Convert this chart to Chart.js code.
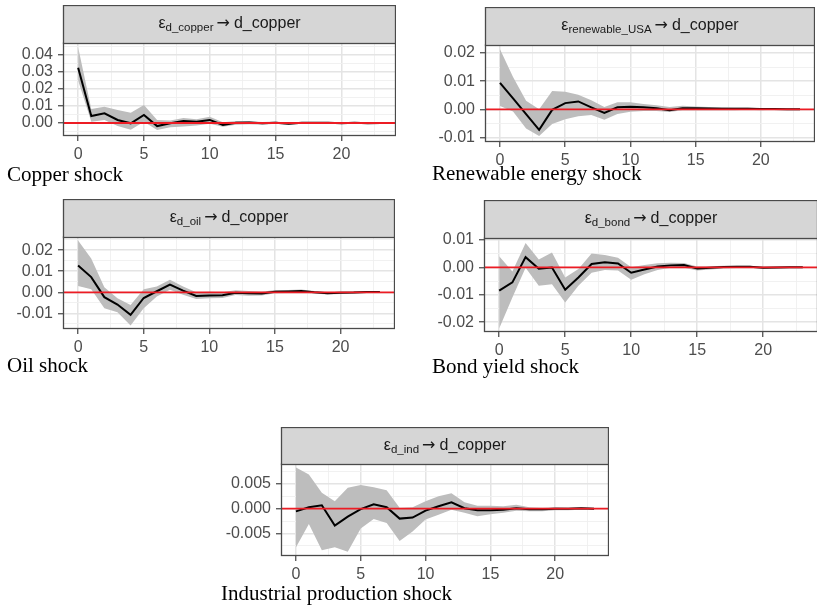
<!DOCTYPE html>
<html><head><meta charset="utf-8">
<script src="https://cdn.jsdelivr.net/npm/chart.js@4.4.1/dist/chart.umd.min.js"></script>
<style>
html,body{margin:0;padding:0;background:#fff;width:817px;height:608px;overflow:hidden;position:relative}
.panel{position:absolute}
.panel canvas{display:block}
.cap{position:absolute;font-family:"Liberation Serif","Times New Roman",serif;font-size:21px;line-height:21px;color:#000;white-space:nowrap}
</style></head><body>
<script>
// ---------- data ----------
const horizons = [0,1,2,3,4,5,6,7,8,9,10,11,12,13,14,15,16,17,18,19,20,21,22,23];
const xTicks = [0,5,10,15,20];
const xTickLabels = ['0','5','10','15','20'];
const responseName = 'd_copper';
const shockNames = ['d_copper','renewable_USA','d_oil','d_bond','d_ind'];
const captions = ['Copper shock','Renewable energy shock','Oil shock','Bond yield shock','Industrial production shock'];

const copperIrf   = [0.0325,0.0041,0.0057,0.0018,-0.0002,0.0047,-0.0018,-0.0002,0.0012,0.0007,0.0018,-0.0012,0.0001,0.0003,-0.0002,0.0002,-0.0005,0.0001,0.0002,0.0001,-0.0001,0.0001,-0.0001,0.0];
const copperLower = [0.025,0.0008,0.0018,-0.0018,-0.004,0.0008,-0.0041,-0.0025,-0.002,-0.0015,-0.0004,-0.0022,-0.001,-0.0008,-0.001,-0.0005,-0.001,-0.0004,-0.0003,-0.0003,-0.0004,-0.0003,-0.0004,-0.0002];
const copperUpper = [0.0446,0.0082,0.0096,0.0076,0.006,0.0106,0.0018,0.0015,0.003,0.0022,0.0037,0.0005,0.0012,0.0011,0.0006,0.0009,0.0002,0.0006,0.0006,0.0005,0.0003,0.0004,0.0003,0.0002];
const copperYTicks = [0,0.01,0.02,0.03,0.04];
const copperYLabels = ['0.00','0.01','0.02','0.03','0.04'];

const renewIrf   = [0.0094,0.0039,-0.0017,-0.0073,-0.0002,0.0022,0.0028,0.0007,-0.0013,0.0007,0.0009,0.0007,0.0004,-0.0003,0.0004,0.0004,0.0003,0.0002,0.0002,0.0002,0.0001,0.0001,0.0,0.0];
const renewLower = [0.0012,-0.0008,-0.0068,-0.0095,-0.0052,-0.0035,-0.0025,-0.002,-0.0037,-0.0017,-0.0009,-0.0006,-0.0006,-0.001,-0.0003,-0.0003,-0.0003,-0.0003,-0.0003,-0.0002,-0.0003,-0.0002,-0.0002,-0.0001];
const renewUpper = [0.0214,0.0115,0.003,0.0,0.0065,0.0062,0.0052,0.0032,0.0008,0.0025,0.0025,0.0019,0.0014,0.0008,0.0013,0.001,0.0008,0.0007,0.0006,0.0006,0.0004,0.0004,0.0003,0.0002];
const renewYTicks = [-0.01,0,0.01,0.02];
const renewYLabels = ['-0.01','0.00','0.01','0.02'];

const oilIrf   = [0.0127,0.0072,-0.0023,-0.0058,-0.0107,-0.0027,0.0005,0.0037,0.0008,-0.0017,-0.0015,-0.0014,-0.0002,-0.0005,-0.0006,0.0003,0.0004,0.0006,0.0,-0.0004,-0.0002,-0.0001,0.0002,0.0001];
const oilLower = [0.003,0.0015,-0.0076,-0.0095,-0.0157,-0.0075,-0.002,0.0012,-0.0012,-0.0032,-0.0028,-0.0027,-0.0013,-0.0016,-0.0015,-0.0005,-0.0003,-0.0001,-0.0006,-0.001,-0.0008,-0.0006,-0.0003,-0.0003];
const oilUpper = [0.0245,0.016,0.0024,-0.0028,-0.006,0.0015,0.0028,0.006,0.0028,0.0,0.0003,0.0,0.001,0.0006,0.0003,0.0011,0.0011,0.0013,0.0006,0.0002,0.0003,0.0004,0.0006,0.0005];
const oilYTicks = [-0.01,0,0.01,0.02];
const oilYLabels = ['-0.01','0.00','0.01','0.02'];

const bondIrf   = [-0.0085,-0.0055,0.0037,-0.0005,-0.0001,-0.0082,-0.0037,0.0012,0.0018,0.0014,-0.002,-0.0008,0.0003,0.0007,0.0008,-0.0004,-0.0002,0.0001,0.0002,0.0002,-0.0002,-0.0001,0.0,0.0];
const bondLower = [-0.0223,-0.011,-0.0002,-0.0067,-0.0062,-0.0128,-0.0067,-0.002,-0.001,-0.0012,-0.0045,-0.0025,-0.001,-0.0002,-0.0002,-0.0012,-0.0008,-0.0004,-0.0003,-0.0002,-0.0005,-0.0004,-0.0003,-0.0002];
const bondUpper = [0.004,-0.0015,0.0089,0.0028,0.0054,-0.0037,-0.0006,0.005,0.0045,0.0035,0.0,0.0008,0.0015,0.0017,0.0016,0.0003,0.0004,0.0006,0.0006,0.0006,0.0001,0.0002,0.0003,0.0002];
const bondYTicks = [-0.02,-0.01,0,0.01];
const bondYLabels = ['-0.02','-0.01','0.00','0.01'];

const indIrf   = [-0.00055,0.0003,0.0007,-0.0034,-0.0016,-0.0001,0.0009,0.0003,-0.002,-0.0018,-0.0004,0.0005,0.0013,0.0001,-0.0003,-0.0003,-0.0002,0.0001,-0.0001,-0.0001,0.0,0.0,0.0001,0.0];
const indLower = [-0.0078,-0.0031,-0.0084,-0.0078,-0.0087,-0.004,-0.0021,-0.0029,-0.0065,-0.0046,-0.0022,-0.0012,-0.0002,-0.0008,-0.0015,-0.0011,-0.0008,-0.0004,-0.0005,-0.0005,-0.0003,-0.0003,-0.0002,-0.0002];
const indUpper = [0.0083,0.0069,0.0032,0.0015,0.0042,0.0048,0.0043,0.0037,0.0002,0.0003,0.0015,0.0025,0.0031,0.0013,0.0006,0.0006,0.0005,0.0008,0.0003,0.0002,0.0003,0.0002,0.0003,0.0002];
const indYTicks = [-0.005,0,0.005];
const indYLabels = ['-0.005','0.000','0.005'];

// ---------- layout ----------
const YW = 62, XH = 32;
const panels = [
  {irf:copperIrf, lo:copperLower, hi:copperUpper, yt:copperYTicks, yl:copperYLabels, ymin:-0.00765, ymax:0.04706, left:63, right:396, stripTop:5, top:43, bottom:136, capX:7, capTop:164},
  {irf:renewIrf, lo:renewLower, hi:renewUpper, yt:renewYTicks, yl:renewYLabels, ymin:-0.01164, ymax:0.02288, left:485, right:815, stripTop:7, top:45, bottom:142, capX:432, capTop:163},
  {irf:oilIrf, lo:oilLower, hi:oilUpper, yt:oilYTicks, yl:oilYLabels, ymin:-0.01739, ymax:0.02621, left:63, right:395, stripTop:199, top:237, bottom:329, capX:7, capTop:355},
  {irf:bondIrf, lo:bondLower, hi:bondUpper, yt:bondYTicks, yl:bondYLabels, ymin:-0.02359, ymax:0.01068, left:484, right:818, stripTop:200, top:238, bottom:332, capX:432, capTop:356},
  {irf:indIrf, lo:indLower, hi:indUpper, yt:indYTicks, yl:indYLabels, ymin:-0.00954, ymax:0.00901, left:281, right:609, stripTop:427, top:464, bottom:556, capX:221, capTop:583}
];

function minorsOf(major, lo, hi){
  const step = major[1]-major[0];
  const out = [];
  for (let i = -1; i < major.length; i++){
    const base = i < 0 ? major[0]-step : major[i];
    const v = base + step/2;
    if (v > lo && v < hi) out.push(+v.toFixed(6));
  }
  return out;
}
function near(a,b){return Math.abs(a-b) < 1e-9;}

const SANS = "'Liberation Sans', Arial, Helvetica, sans-serif";

const stripPlugin = {
  id:'strip',
  afterDraw(chart, args, opts){
    const {ctx, chartArea:a} = chart;
    const h = opts.height;
    const top = a.top - h;
    ctx.save();
    ctx.fillStyle = '#D6D6D6';
    ctx.fillRect(a.left, top, a.right - a.left, h);
    ctx.strokeStyle = '#4a4a4a';
    ctx.lineWidth = 1.3;
    ctx.strokeRect(a.left + 0.5, top + 0.5, a.right - a.left - 1, h);
    const fMain = '16px ' + SANS, fSub = '11.5px ' + SANS, fArr = "16px 'DejaVu Sans', sans-serif";
    ctx.font = fMain;
    const wE = ctx.measureText('ε').width;
    const wM = ctx.measureText(opts.resp).width;
    ctx.font = fArr;
    const wA = ctx.measureText('→').width;
    ctx.font = fSub;
    const wS = ctx.measureText(opts.shock).width;
    const g1 = 3, g2 = 4;
    const total = wE + wS + g1 + wA + g2 + wM;
    let x = (a.left + a.right)/2 - total/2;
    const bMain = top + 23, bSub = top + 26;
    ctx.fillStyle = '#1A1A1A';
    ctx.textBaseline = 'alphabetic';
    ctx.textAlign = 'left';
    ctx.font = fMain; ctx.fillText('ε', x, bMain); x += wE;
    ctx.font = fSub; ctx.fillText(opts.shock, x, bSub); x += wS + g1;
    ctx.font = fArr; ctx.fillText('→', x, bMain); x += wA + g2;
    ctx.font = fMain; ctx.fillText(opts.resp, x, bMain);
    ctx.restore();
  }
};

const panelPlugin = {
  id:'panelDeco',
  afterDatasetsDraw(chart){
    const {ctx, chartArea:a, scales} = chart;
    const y0 = scales.y.getPixelForValue(0);
    ctx.save();
    ctx.beginPath();
    ctx.rect(a.left, a.top, a.right - a.left, a.bottom - a.top);
    ctx.clip();
    ctx.strokeStyle = '#EC1C24';
    ctx.lineWidth = 1.8;
    ctx.beginPath();
    ctx.moveTo(a.left, y0); ctx.lineTo(a.right, y0);
    ctx.stroke();
    ctx.restore();
    ctx.save();
    ctx.strokeStyle = '#4a4a4a';
    ctx.lineWidth = 1.3;
    ctx.strokeRect(a.left + 0.5, a.top, a.right - a.left - 1, a.bottom - a.top - 0.5);
    ctx.restore();
  }
};

panels.forEach((P, i) => {
  const stripH = P.top - P.stripTop;
  const div = document.createElement('div');
  div.className = 'panel';
  const W = P.right - P.left + YW, H = P.bottom - P.stripTop + XH;
  div.style.left = (P.left - YW) + 'px';
  div.style.top = P.stripTop + 'px';
  div.style.width = W + 'px';
  div.style.height = H + 'px';
  const cv = document.createElement('canvas');
  cv.width = W; cv.height = H;
  cv.style.width = W + 'px'; cv.style.height = H + 'px';
  div.appendChild(cv);
  document.body.appendChild(div);

  const cap = document.createElement('div');
  cap.className = 'cap';
  cap.style.left = P.capX + 'px';
  cap.style.top = P.capTop + 'px';
  cap.textContent = captions[i];
  document.body.appendChild(cap);

  const xmin = -1.15, xmax = 24.15;
  const xMinor = minorsOf(xTicks, xmin, xmax);
  const yMinor = minorsOf(P.yt, P.ymin, P.ymax);
  const xAll = xTicks.concat(xMinor).sort((a,b)=>a-b);
  const yAll = P.yt.concat(yMinor).sort((a,b)=>a-b);
  const isXMajor = v => xTicks.some(t => near(t, v));
  const isYMajor = v => P.yt.some(t => near(t, v));
  const pts = arr => horizons.map((h, k) => ({x:h, y:arr[k]}));

  new Chart(cv, {
    type:'line',
    data:{
      datasets:[
        {data:pts(P.irf), borderColor:'#000', borderWidth:2, pointRadius:0, fill:false, tension:0},
        {data:pts(P.hi), borderWidth:0, borderColor:'rgba(0,0,0,0)', pointRadius:0, fill:'+1', backgroundColor:'#BDBDBD', tension:0},
        {data:pts(P.lo), borderWidth:0, borderColor:'rgba(0,0,0,0)', pointRadius:0, fill:false, tension:0}
      ]
    },
    options:{
      responsive:false,
      animation:false,
      devicePixelRatio:1,
      layout:{padding:{top:stripH, left:0, right:0, bottom:0}},
      plugins:{legend:{display:false}, tooltip:{enabled:false}, title:{display:false},
        strip:{height:stripH, shock:shockNames[i], resp:responseName}},
      scales:{
        x:{
          type:'linear', min:xmin, max:xmax,
          afterBuildTicks: s => { s.ticks = xAll.map(v => ({value:v})); },
          afterFit: s => { s.height = XH; },
          border:{display:false},
          grid:{
            color: c => isXMajor(c.tick.value) ? '#E4E4E4' : '#EFEFEF',
            lineWidth: c => isXMajor(c.tick.value) ? 1.5 : 0.9,
            tickColor: c => isXMajor(c.tick.value) ? '#444' : 'rgba(0,0,0,0)',
            tickLength:5, tickWidth:1.2
          },
          ticks:{
            autoSkip:false, maxRotation:0, padding:4, color:'#4D4D4D',
            font:{family:SANS, size:16},
            callback: v => { const k = xTicks.findIndex(t => near(t, v)); return k >= 0 ? xTickLabels[k] : ''; }
          }
        },
        y:{
          type:'linear', min:P.ymin, max:P.ymax,
          afterBuildTicks: s => { s.ticks = yAll.map(v => ({value:v})); },
          afterFit: s => { s.width = YW; },
          border:{display:false},
          grid:{
            color: c => isYMajor(c.tick.value) ? '#E4E4E4' : '#EFEFEF',
            lineWidth: c => isYMajor(c.tick.value) ? 1.5 : 0.9,
            tickColor: c => isYMajor(c.tick.value) ? '#444' : 'rgba(0,0,0,0)',
            tickLength:5, tickWidth:1.2
          },
          ticks:{
            autoSkip:false, padding:5, color:'#4D4D4D',
            font:{family:SANS, size:16},
            callback: v => { const k = P.yt.findIndex(t => near(t, v)); return k >= 0 ? P.yl[k] : ''; }
          }
        }
      }
    },
    plugins:[stripPlugin, panelPlugin]
  });
});
</script>
</body></html>
